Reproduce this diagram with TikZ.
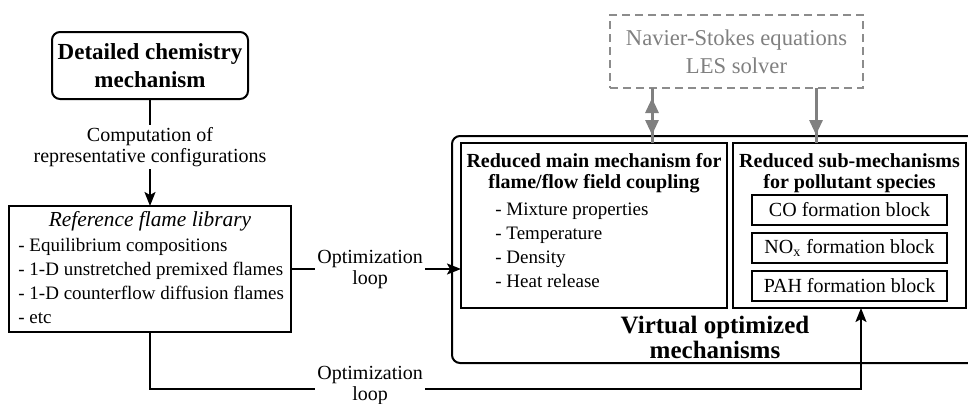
\documentclass[tikz,border=0pt]{standalone}
\usepackage{fontspec}
\setmainfont{Liberation Serif}
\usepackage{tikz}
\usetikzlibrary{positioning, arrows.meta}

\tikzset{
  box/.style={draw, line width=1pt, inner sep=0pt, outer sep=0pt},
  head/.style={inner sep=0pt, align=center, font=\fontsize{10}{10.5}\selectfont\bfseries},
  items/.style={inner sep=0pt, align=left, font=\fontsize{9.5}{12}\selectfont},
  lbl/.style={inner sep=1pt, align=center, font=\fontsize{10}{10.5}\selectfont},
  block/.style={box, minimum width=97.5pt, minimum height=15pt, font=\fontsize{10}{12}\selectfont},
  wire/.style={line width=1pt},
  link/.style={wire, -{Stealth[length=7pt, width=5.5pt, inset=1.5pt]}},
  glink/.style={draw=black!50, line width=1.5pt},
  gtip/.tip={Triangle[length=7.5pt, width=6.5pt]}
}

\begin{document}
\begin{tikzpicture}[x=0.5pt, y=-0.5pt, node distance=1cm]
\useasboundingbox (0,0) rectangle (968,403);

% left column
\node (chem) [box, rounded corners=4pt, minimum width=98pt, minimum height=33.5pt,
  align=center, font=\fontsize{11.5}{14}\selectfont\bfseries] at (150,65.5)
  {Detailed chemistry\\mechanism};
\node (lib) [box, minimum width=141pt, minimum height=63pt] at (150,269) {};
\node (libhead) [below=2.7pt of lib.north, inner sep=0pt,
  font=\fontsize{10.7}{12}\selectfont\itshape] {Reference flame library};
\node (liblist) [items, below right=16pt and 4.5pt of lib.north west]
  {- Equilibrium compositions\\- 1-D unstretched premixed flames\\- 1-D counterflow diffusion flames\\- etc};

% solver
\node (ns) [box, draw=black!45, dash pattern=on 4pt off 2.5pt, text=black!50, align=center,
  font=\fontsize{11.3}{14}\selectfont, minimum width=126.5pt, minimum height=36.5pt]
  at (736.5,51.5) {Navier-Stokes equations\\LES solver};

% virtual mechanisms
\node (virt) [box, rounded corners=4pt, minimum width=262pt, minimum height=113.5pt] at (714,249.5) {};
\node (main) [box, minimum width=133pt, minimum height=82.5pt] at (594,225.5) {};
\node (sub) [box, right=3pt of main, minimum width=116.5pt, minimum height=82.5pt] {};
\node (mainhead) [head, below=5pt of main.north] {Reduced main mechanism for\\flame/flow field coupling};
\node (mainlist) [items, below right=30pt and 17pt of main.north west]
  {- Mixture properties\\- Temperature\\- Density\\- Heat release};
\node (subhead) [head, below=5pt of sub.north] {Reduced sub-mechanisms\\for pollutant species};
\node (co) [block, below=26pt of sub.north] {CO formation block};
\node (nox) [block, below=4pt of co] {NO\textsubscript{x} formation block};
\node (pah) [block, below=4pt of nox] {PAH formation block};
\node (virttxt) [align=center, inner sep=0pt, font=\fontsize{12.5}{12.5}\selectfont\bfseries]
  at (715,337) {Virtual optimized\\mechanisms};

% loops
\node (loopA) [lbl, right=12pt of lib] {Optimization\\loop};
\node (loopB) [lbl] at (loopA |- 0,385) {Optimization\\loop};

\path[link]
(chem) edge node[lbl, fill=white, pos=0.45] {Computation of\\representative configurations} (lib)
(loopA) edge (loopA -| main.west);
\path[wire] (lib) edge (loopA);
\draw[wire] (lib.south) |- ([yshift=-2pt]loopB.west);
\draw[link] ([yshift=-2pt]loopB.east) -| ([xshift=5.75pt]sub.south);

% coupling with the solver
\coordinate (nsl) at ([xshift=-42.25pt]ns.south);
\coordinate (nsr) at ([xshift=39.75pt]ns.south);
\draw[glink] (nsl) -- (nsl |- main.north);
\draw[glink, {gtip}-{gtip}, shorten <=5pt, shorten >=4pt] (nsl) -- (nsl |- main.north);
\draw[glink] (nsr) -- (nsr |- sub.north);
\draw[glink, -{gtip}, shorten >=4pt] (nsr) -- (nsr |- sub.north);
\end{tikzpicture}
\end{document}
